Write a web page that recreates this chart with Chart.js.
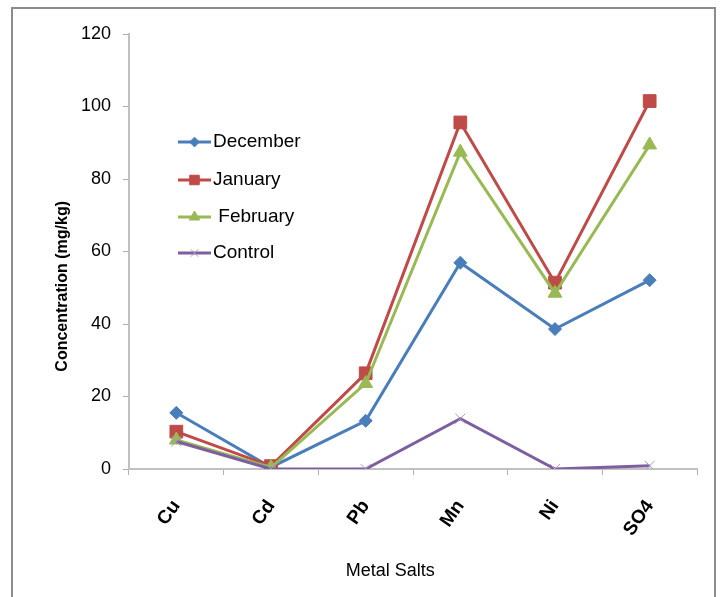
<!DOCTYPE html>
<html>
<head>
<meta charset="utf-8">
<script src="https://cdn.jsdelivr.net/npm/chart.js@4/dist/chart.umd.min.js"></script>
<style>
  html, body { margin: 0; padding: 0; background: #ffffff; }
  #wrap { position: relative; width: 720px; height: 597px; }
</style>
</head>
<body>
<div id="wrap"><canvas id="chart" width="720" height="597"></canvas></div>
<script>
// Metal salt concentrations (mg/kg) by sampling month
const categories = ['Cu', 'Cd', 'Pb', 'Mn', 'Ni', 'SO4'];
const december = [15.5, 0.5, 13.3, 56.9, 38.6, 52.1];
const january  = [10.3, 0.8, 26.4, 95.6, 51.4, 101.5];
const february = [8.0, 0.4, 23.6, 87.4, 48.5, 89.4];
const control  = [7.6, 0.0, 0.0, 13.9, 0.0, 0.9];
const yTicks = [0, 20, 40, 60, 80, 100, 120];
const xTitle = 'Metal Salts';
const yTitle = 'Concentration (mg/kg)';

const FONT = "'Liberation Sans', Arial, sans-serif";

// Outer frame (left, top, right edges)
const framePlugin = {
  id: 'frame',
  beforeDraw(chart) {
    const ctx = chart.ctx;
    ctx.save();
    ctx.strokeStyle = '#8c8c8c';
    ctx.lineWidth = 2;
    ctx.beginPath();
    ctx.moveTo(12, 597);
    ctx.lineTo(12, 8);
    ctx.lineTo(715, 8);
    ctx.lineTo(715, 597);
    ctx.stroke();
    ctx.restore();
  }
};

// Axis titles, placed relative to the plot area
const axisTitles = {
  id: 'axisTitles',
  afterDraw(chart) {
    const ctx = chart.ctx;
    const area = chart.chartArea;
    ctx.save();
    ctx.fillStyle = '#000000';
    ctx.textAlign = 'center';
    ctx.textBaseline = 'middle';
    ctx.font = '18px ' + FONT;
    ctx.fillText(xTitle, area.left + (area.right - area.left) * 0.46, 571);
    ctx.translate(63, area.top + (area.bottom - area.top) * 0.58);
    ctx.rotate(-Math.PI / 2);
    ctx.font = 'bold 16px ' + FONT;
    ctx.fillText(yTitle, 0, 0);
    ctx.restore();
  }
};

// Legend drawn inside the plot area, using each dataset's own style
const insideLegend = {
  id: 'insideLegend',
  afterDraw(chart) {
    const ctx = chart.ctx;
    const x0 = 178, x1 = 211, tx = 213;
    const rows = [142, 180, 217, 253];
    const texts = ['December', 'January', ' February', 'Control'];
    chart.data.datasets.forEach((ds, i) => {
      const y = rows[i];
      ctx.save();
      ctx.strokeStyle = ds.borderColor;
      ctx.lineWidth = ds.borderWidth;
      ctx.beginPath();
      ctx.moveTo(x0, y);
      ctx.lineTo(x1, y);
      ctx.stroke();
      ctx.fillStyle = ds.pointBackgroundColor;
      ctx.strokeStyle = ds.pointBorderColor;
      ctx.lineWidth = ds.pointBorderWidth;
      Chart.helpers.drawPoint(ctx, {
        pointStyle: ds.pointStyle,
        radius: ds.pointRadius * 0.75,
        rotation: 0,
        borderWidth: ds.pointBorderWidth
      }, (x0 + x1) / 2, y);
      ctx.fillStyle = '#000000';
      ctx.font = '19px ' + FONT;
      ctx.textBaseline = 'middle';
      ctx.textAlign = 'left';
      ctx.fillText(texts[i], tx, y);
      ctx.restore();
    });
  }
};

const ctx = document.getElementById('chart').getContext('2d');
new Chart(ctx, {
  type: 'line',
  data: {
    labels: categories,
    datasets: [
      {
        label: 'December', data: december, order: 3,
        borderColor: '#4a7ebb', backgroundColor: '#4a7ebb', borderWidth: 3,
        pointStyle: 'rectRot', pointRadius: 6.5,
        pointBackgroundColor: '#4a7ebb', pointBorderColor: '#4a7ebb', pointBorderWidth: 1
      },
      {
        label: 'January', data: january, order: 2,
        borderColor: '#be4b48', backgroundColor: '#be4b48', borderWidth: 3,
        pointStyle: 'rect', pointRadius: 9,
        pointBackgroundColor: '#be4b48', pointBorderColor: '#be4b48', pointBorderWidth: 1
      },
      {
        label: 'February', data: february, order: 1,
        borderColor: '#98b954', backgroundColor: '#98b954', borderWidth: 3,
        pointStyle: 'triangle', pointRadius: 8,
        pointBackgroundColor: '#98b954', pointBorderColor: '#98b954', pointBorderWidth: 1
      },
      {
        label: 'Control', data: control, order: 0,
        borderColor: '#7d5fa0', backgroundColor: '#7d5fa0', borderWidth: 3,
        pointStyle: 'crossRot', pointRadius: 7,
        pointBackgroundColor: '#a895c8', pointBorderColor: '#a895c8', pointBorderWidth: 1
      }
    ]
  },
  options: {
    responsive: false,
    animation: false,
    layout: { padding: { left: 0, top: 34, right: 23, bottom: 0 } },
    plugins: {
      legend: { display: false },
      tooltip: { enabled: false }
    },
    elements: { line: { tension: 0 } },
    scales: {
      x: {
        type: 'category',
        offset: true,
        afterFit(scale) { scale.height = 128; },
        border: { color: '#c0c0c0', width: 2 },
        grid: { offset: true, drawOnChartArea: false, drawTicks: true, tickLength: 6, color: '#b0b0b0' },
        ticks: {
          color: '#000000',
          font: { family: FONT, size: 19, weight: 'bold' },
          minRotation: 55, maxRotation: 55,
          padding: 21
        },
        title: { display: false, text: xTitle }
      },
      y: {
        min: 0, max: 120,
        afterFit(scale) { scale.width = 129; },
        afterBuildTicks(scale) { scale.ticks = yTicks.map(v => ({ value: v })); },
        border: { color: '#c0c0c0', width: 2 },
        grid: { drawOnChartArea: false, drawTicks: true, tickLength: 6, color: '#b0b0b0' },
        ticks: {
          color: '#000000',
          font: { family: FONT, size: 18 },
          padding: 12
        },
        title: { display: false, text: yTitle }
      }
    }
  },
  plugins: [framePlugin, axisTitles, insideLegend]
});
</script>
</body>
</html>
